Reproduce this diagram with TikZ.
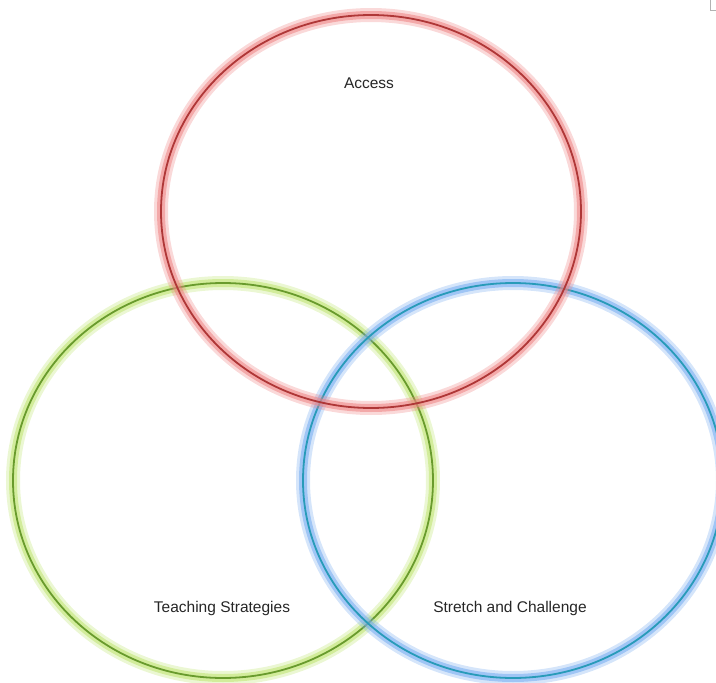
\documentclass[tikz,border=0pt]{standalone}
\usepackage{fontspec}
\setmainfont{Liberation Sans}
\definecolor{accglow}{RGB}{238,130,130}
\definecolor{accline}{RGB}{175,55,55}
\definecolor{teachglow}{RGB}{190,228,110}
\definecolor{teachline}{RGB}{105,155,45}
\definecolor{strglow}{RGB}{115,170,240}
\definecolor{strline}{RGB}{40,155,185}
\tikzset{
  ring/.style 2 args={preaction={draw=#1, line width=14pt, opacity=.3},
    preaction={draw=#1, line width=8pt, opacity=.55}, draw=#2, line width=1.8pt},
  venntext/.style={font=\fontsize{15.5}{18}\selectfont, text=black!85}
}
\begin{document}
\begin{tikzpicture}[x=1pt,y=-1pt]
   \useasboundingbox (0,0) rectangle (716,683);
   \draw[ring={teachglow}{teachline}] (223,480.5) ellipse [x radius=210, y radius=197.5];
   \draw[ring={strglow}{strline}]     (513,480.5) ellipse [x radius=210, y radius=197.5];
   \draw[ring={accglow}{accline}]     (371,211.5) ellipse [x radius=210, y radius=196.5];
   \node[venntext] (A) at (369,83)  {Access};
   \node[venntext] (T) at (222,608) {Teaching Strategies};
   \node[venntext] (S) at (510,608) {Stretch and Challenge};
   \draw[gray!60, line width=1pt] (710,0) |- (716,10);
\end{tikzpicture}
\end{document}
